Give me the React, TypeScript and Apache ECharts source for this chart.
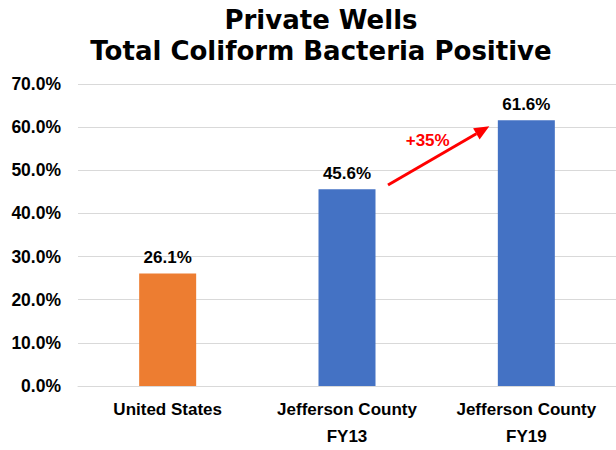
import React, { useEffect, useRef } from "react";
import * as echarts from "echarts";

const titleLines = ["Private Wells", "Total Coliform Bacteria Positive"];
const categories = ["United States", "Jefferson County\nFY13", "Jefferson County\nFY19"];
const values = [26.1, 45.6, 61.6];
const barColors = ["#ED7D31", "#4472C4", "#4472C4"];
const yTicks = [0, 10, 20, 30, 40, 50, 60, 70];
const changeLabel = "+35%";

export default function App() {
  const ref = useRef<HTMLDivElement>(null);
  useEffect(() => {
    if (!ref.current) return;
    document.body.style.margin = "0";
    const chart = echarts.init(ref.current, null, { renderer: "svg" });
    const font = "'Liberation Sans', Arial, sans-serif";
    chart.setOption({
      animation: false,
      title: {
        text: titleLines.join("\n"),
        left: 316,
        textAlign: "center",
        top: -1,
        textStyle: {
          fontFamily: "'DejaVu Sans', Verdana, sans-serif",
          fontWeight: "bold",
          fontSize: 26,
          lineHeight: 31,
          color: "#000",
        },
      },
      grid: { left: 78, width: 540, top: 84, bottom: 58, containLabel: false },
      xAxis: {
        type: "category",
        data: categories,
        axisLine: { lineStyle: { color: "#d9d9d9", width: 1 } },
        axisTick: { show: false },
        axisLabel: {
          interval: 0,
          margin: 10,
          fontFamily: font,
          fontWeight: "bold",
          fontSize: 17,
          lineHeight: 27,
          color: "#000",
        },
      },
      yAxis: {
        type: "value",
        min: yTicks[0],
        max: yTicks[yTicks.length - 1],
        interval: 10,
        axisLine: { show: false },
        axisTick: { show: false },
        splitLine: { lineStyle: { color: "#d9d9d9", width: 1 } },
        axisLabel: {
          margin: 17,
          fontFamily: font,
          fontWeight: "bold",
          fontSize: 17.5,
          color: "#000",
          formatter: (v: number) => `${v.toFixed(1)}%`,
        },
      },
      series: [
        {
          type: "bar",
          barWidth: 57,
          data: values.map((v, i) => ({ value: v, itemStyle: { color: barColors[i] } })),
          label: {
            show: true,
            position: "top",
            distance: 7,
            fontFamily: font,
            fontWeight: "bold",
            fontSize: 17,
            color: "#000",
            formatter: (p: any) => `${p.value.toFixed(1)}%`,
          },
        },
      ],
    });

    // Arrow annotation from FY13 bar to FY19 bar, positioned through the axes
    const p1 = chart.convertToPixel({ gridIndex: 0 }, [1, values[1] + 1]) as number[];
    const p2 = chart.convertToPixel({ gridIndex: 0 }, [2, values[2] - 1.4]) as number[];
    const x1 = p1[0] + 41;
    const y1 = p1[1];
    const x2 = p2[0] - 37;
    const y2 = p2[1];
    const ang = Math.atan2(y2 - y1, x2 - x1);
    const headLen = 15;
    const headW = 6.5;
    const bx = x2 - headLen * Math.cos(ang);
    const by = y2 - headLen * Math.sin(ang);
    const nx = -Math.sin(ang);
    const ny = Math.cos(ang);
    chart.setOption({
      graphic: [
        {
          type: "line",
          shape: { x1, y1, x2: bx, y2: by },
          style: { stroke: "#FF0000", lineWidth: 3 },
        },
        {
          type: "polygon",
          shape: {
            points: [
              [x2, y2],
              [bx + nx * headW, by + ny * headW],
              [bx - nx * headW, by - ny * headW],
            ],
          },
          style: { fill: "#FF0000" },
        },
        {
          type: "text",
          x: (x1 + x2) / 2 - 11,
          y: (y1 + y2) / 2 - 15,
          style: {
            text: changeLabel,
            fill: "#FF0000",
            font: `bold 17px ${font}`,
            textAlign: "center",
            textVerticalAlign: "middle",
          },
        },
      ],
    });
    return () => chart.dispose();
  }, []);
  return (
    <div
      ref={ref}
      style={{ width: 616, height: 450, position: "absolute", left: 0, top: 0 }}
    />
  );
}
